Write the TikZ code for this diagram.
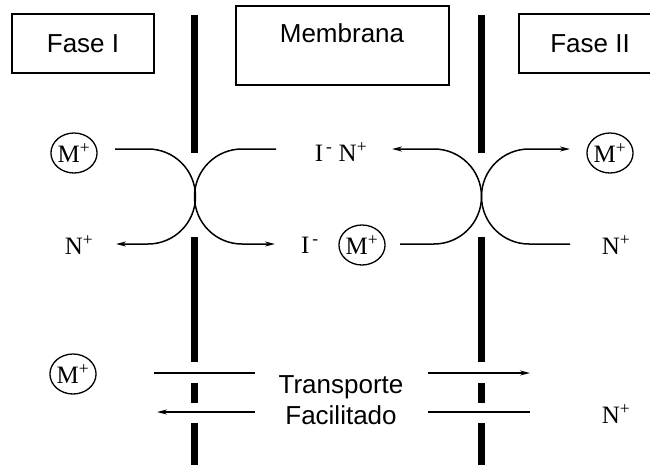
\documentclass[tikz,border=0pt]{standalone}
\usepackage{fontspec}
\setmainfont{Liberation Serif}
\newfontfamily\sansf{Liberation Sans}
\usetikzlibrary{arrows.meta,shapes.geometric}
\begin{document}
\begin{tikzpicture}[x=1pt,y=-1pt,
  membrane/.style={line width=7pt},
  flow/.style={line width=1.5pt},
  flowtip/.style={flow,-{Stealth[length=10pt,width=5pt]}},
  phasebox/.style={draw,line width=1.3pt},
  boxtext/.style={font=\sansf\fontsize{26}{31}\selectfont},
  ion/.style={font=\fontsize{25}{27}\selectfont,inner sep=0pt},
  ringion/.style={ion,draw,ellipse,line width=1.3pt,minimum width=46pt,minimum height=40pt}]
\useasboundingbox (0,0) rectangle (650,464);

% phase and membrane boxes
\draw[phasebox] (12,14) rectangle (154,73);
\draw[phasebox] (236,6) rectangle (449,85);
\draw[phasebox] (519,14) rectangle (660,73);
\node[boxtext] (f1) at (83,44) {Fase I};
\node[boxtext] (mb) at (342,33) {Membrana};
\node[boxtext] (f2) at (590,44) {Fase II};

% the two membrane walls, broken where the carriers pass
\foreach \x in {194,481.5} {
  \draw[membrane] (\x,15) -- (\x,153);
  \draw[membrane] (\x,237) -- (\x,362);
  \draw[membrane] (\x,383) -- (\x,403);
  \draw[membrane] (\x,423) -- (\x,466);
}

% ions
\node[ringion] (m1) at (74,153) {M\textsuperscript{+}};
\node[ion] (n1) at (79,245) {N\textsuperscript{+}};
\node[ion] (in) at (341,152) {I\textsuperscript{\,-}\ N\textsuperscript{+}};
\node[ion] (i2) at (310,245) {I\textsuperscript{\,-}};
\node[ringion] (m2) at (362,245) {M\textsuperscript{+}};
\node[ringion] (m3) at (610,153) {M\textsuperscript{+}};
\node[ion] (n3) at (616,245) {N\textsuperscript{+}};
\node[ringion] (m4) at (73,374) {M\textsuperscript{+}};
\node[ion] (n4) at (616,414) {N\textsuperscript{+}};
\node[boxtext,align=center] (tf) at (341,400) {Transporte\\Facilitado};

% carrier exchange at the left wall
\coordinate (a1) at (115,149);
\coordinate (a2) at (116,244);
\coordinate (b1) at (276,149);
\coordinate (b2) at (275,244);
\draw[flowtip] (a1) -- (148,149) arc[start angle=-90,end angle=90,radius=47.5] -- (a2);
\draw[flowtip] (b1) -- (242,149) arc[start angle=-90,end angle=-270,radius=47.5] -- (b2);

% carrier exchange at the right wall
\coordinate (c1) at (400,244);
\coordinate (c2) at (392,149);
\coordinate (d1) at (570,244);
\coordinate (d2) at (570,149);
\draw[flowtip] (c1) -- (434,244) arc[start angle=90,end angle=-90,radius=47.5] -- (c2);
\draw[flowtip] (d1) -- (529,244) arc[start angle=90,end angle=270,radius=47.5] -- (d2);

% facilitated transport
\coordinate (t1) at (154,373);
\coordinate (t2) at (255,373);
\coordinate (t3) at (255,412);
\coordinate (t4) at (157,412);
\coordinate (t5) at (428,373);
\coordinate (t6) at (530,373);
\coordinate (t7) at (428,412);
\coordinate (t8) at (530,412);
\draw[flow] (t1) -- (t2);
\draw[flowtip] (t3) -- (t4);
\draw[flowtip] (t5) -- (t6);
\draw[flow] (t7) -- (t8);
\end{tikzpicture}
\end{document}
